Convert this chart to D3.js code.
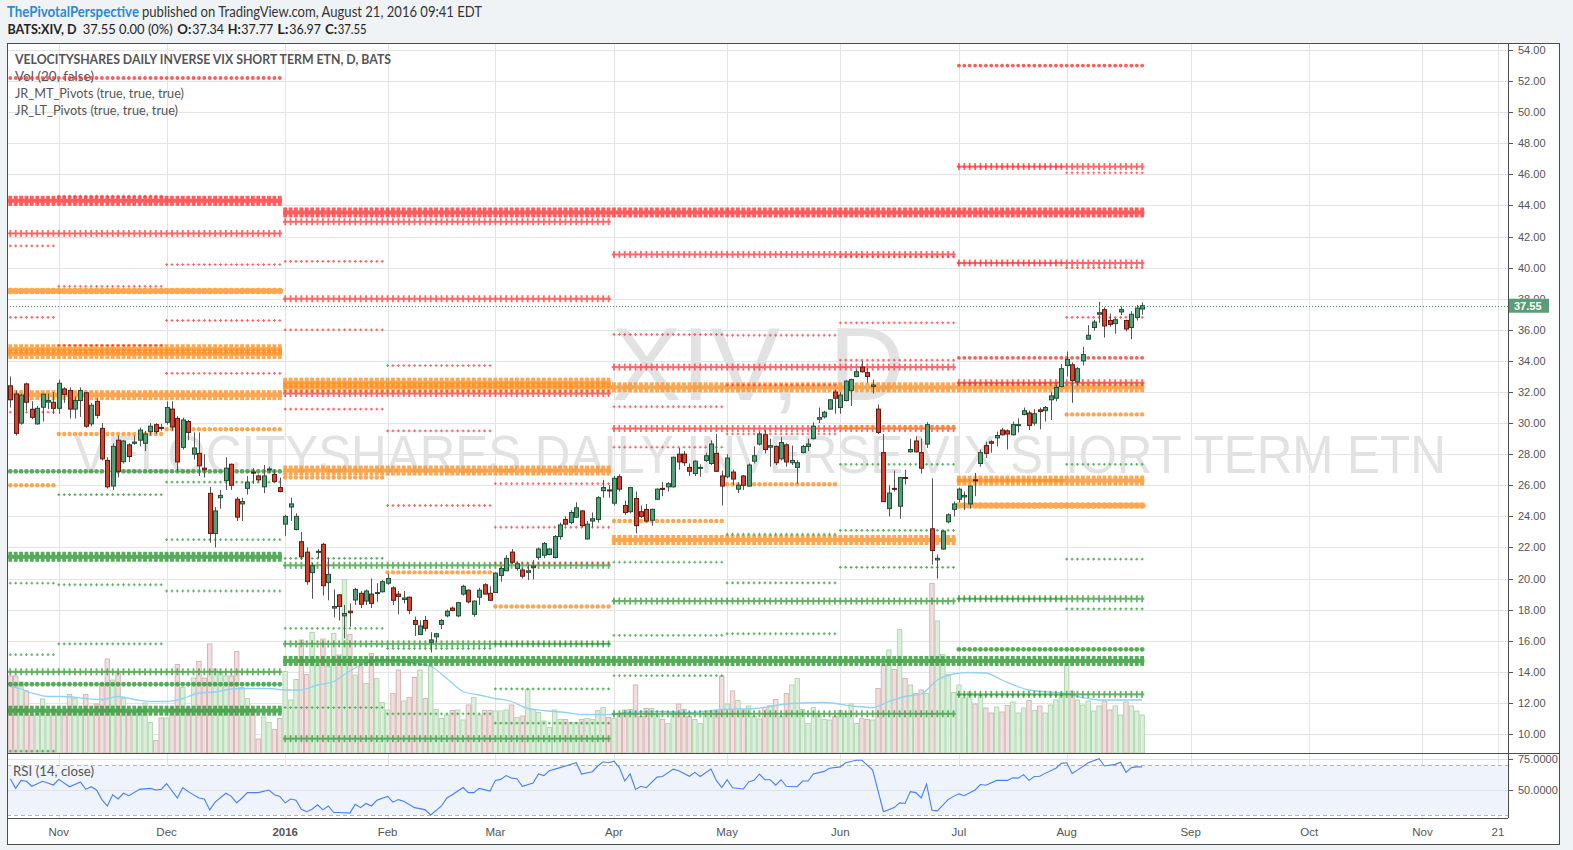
<!DOCTYPE html>
<html><head><meta charset="utf-8">
<script src="https://cdn.jsdelivr.net/npm/d3@7"></script>
<style>
body{margin:0;background:#f0f3f6;}
svg{display:block;}
</style></head><body><svg id="c" width="1573" height="850"></svg>
<script>
// ---------------- DATA ----------------
// bar index: 0 = 2 Nov 2015 (trading days), first bar = -9 (20 Oct 2015), last = 201 (19 Aug 2016)
const firstIdx = -9;
const opens = [32.4,31.87,30.0,32.52,30.89,29.95,31.02,31.35,31.34,30.95,
32.2,32.1,30.9,31.45,31.95,29.95,31.4,29.66,27.6,25.95,
28.9,27.52,28.6,28.7,28.9,28.7,29.45,29.9,29.72,30.05,
30.9,30.3,28.44,30.1,28.0,28.05,27.1,25.48,22.9,25.2,
26.3,27.35,25.1,24.8,25.8,26.85,26.6,25.9,27.0,26.7,
25.85,23.5,24.6,23.15,22.37,21.7,20.38,21.7,22.2,19.74,
18.1,18.95,17.6,17.9,18.62,19.05,18.55,19.0,19.05,19.15,
19.7,19.4,19.0,18.65,18.8,17.3,16.4,17.3,15.9,16.25,
17.05,17.6,18.1,17.6,19.0,19.25,17.7,18.8,19.6,19.05,
19.1,20.2,20.5,21.7,20.65,20.55,20.4,20.7,21.35,21.5,
21.55,21.35,22.7,23.8,23.6,23.95,24.35,22.55,23.7,23.8,
25.65,25.7,24.85,26.55,24.7,24.3,25.15,24.3,24.45,23.75,
25.1,25.8,25.9,25.9,28.0,28.0,27.15,26.75,27.1,27.6,
27.4,28.05,26.6,26.55,26.85,25.75,26.6,25.95,27.55,28.65,
29.25,28.45,28.5,27.7,28.6,27.45,27.15,28.1,28.5,29.0,
30.25,30.4,30.9,32.0,31.0,31.45,32.1,33.0,33.6,33.25,
32.35,30.9,28.1,24.5,25.8,24.65,26.5,28.15,28.85,28.1,
28.65,23.2,21.2,21.9,23.65,24.45,25.1,25.25,24.8,26.35,
27.4,28.55,28.8,29.05,29.55,29.5,29.25,29.85,30.55,30.65,
30.0,30.85,30.8,31.5,31.6,32.35,33.7,33.75,32.65,34.0,
35.4,36.15,37.0,37.3,36.6,36.4,37.15,36.6,36.15,36.8,37.34];
const highs = [33.0,32.1,31.9,32.6,31.4,31.1,31.9,31.9,32.0,32.8,
32.3,32.3,31.7,32.3,32.0,31.3,31.6,30.0,27.8,28.7,
29.2,28.9,28.7,29.2,29.7,29.5,30.0,30.0,29.95,31.4,
31.4,30.45,30.35,30.2,29.4,29.4,28.0,25.9,24.6,25.7,
27.8,27.4,25.25,25.2,26.6,27.1,26.7,27.3,27.2,27.0,
26.5,24.1,25.2,24.2,23.0,22.0,21.0,21.9,22.3,21.3,
19.3,19.0,18.3,18.4,19.4,19.2,19.3,20.0,19.7,19.9,
20.3,19.5,19.2,19.2,18.85,17.55,17.3,17.6,16.55,16.5,
17.4,18.0,18.2,18.5,19.6,19.3,18.6,19.4,19.7,19.5,
20.4,20.8,21.5,21.9,21.1,20.7,20.9,21.2,22.0,22.35,
21.95,22.8,23.6,24.0,24.4,24.9,24.4,23.7,24.25,25.3,
26.35,26.0,26.6,26.7,25.0,25.9,25.6,24.7,24.8,24.5,
25.8,26.2,26.2,27.85,28.4,28.2,27.4,27.6,27.35,28.1,
28.9,29.3,26.95,28.0,27.0,26.2,26.65,27.4,28.5,29.45,
29.55,29.0,28.55,29.1,28.7,28.55,27.6,28.6,29.0,30.05,
31.0,30.8,31.55,32.15,32.0,32.75,32.85,33.45,34.0,33.55,
32.8,31.2,29.3,26.0,26.95,26.55,27.0,29.0,29.15,29.0,
30.05,26.45,21.55,23.1,24.2,24.95,25.85,25.6,26.0,26.8,
28.3,28.8,28.9,29.45,29.7,29.6,30.1,30.3,31.0,30.8,
30.9,31.0,31.1,32.0,32.45,33.8,34.6,33.9,33.6,34.9,
36.3,36.65,37.8,37.45,37.05,36.75,37.5,36.65,37.2,37.6,37.77];
const lows = [31.0,29.2,29.9,30.8,30.25,29.9,30.1,30.9,30.6,30.6,
31.3,30.3,30.3,30.4,29.7,29.8,30.3,27.6,25.8,25.7,
26.5,27.4,27.5,28.6,28.5,28.2,29.2,29.3,29.5,29.9,
29.5,26.9,28.3,28.9,27.65,26.6,26.5,22.3,22.0,24.5,
25.7,25.7,23.7,23.7,25.4,26.1,26.2,25.5,26.8,26.2,
25.55,22.75,23.7,23.1,21.2,19.6,18.7,21.3,18.9,18.6,
17.5,17.3,16.15,16.9,18.3,18.1,18.3,18.1,18.5,19.1,
19.6,18.3,17.7,18.4,17.7,16.3,16.4,16.6,15.25,15.9,
16.75,17.5,17.9,17.5,18.9,18.4,17.55,18.3,19.0,18.55,
19.1,19.8,20.5,20.95,20.5,20.0,19.9,19.95,21.2,21.3,
21.5,21.3,22.5,23.4,23.5,23.9,23.3,22.5,23.3,23.6,
25.2,25.2,24.7,25.6,24.1,24.2,22.9,23.9,23.6,23.4,
25.05,25.3,25.6,25.85,27.0,27.25,26.6,26.6,26.55,27.5,
27.3,26.85,24.7,26.45,26.0,25.5,25.7,25.9,27.4,28.55,
28.05,27.2,27.3,27.6,27.2,27.3,26.1,28.05,28.2,28.95,
30.0,30.3,30.85,30.6,30.6,31.4,31.1,32.95,33.25,32.6,
31.9,29.3,24.95,24.0,25.6,23.85,26.05,28.1,28.1,26.75,
28.4,20.9,20.0,21.85,23.55,24.0,24.9,24.4,24.5,25.3,
27.2,27.75,28.1,28.5,29.2,28.3,29.2,29.4,30.5,29.55,
29.85,29.6,30.1,30.2,31.4,32.3,33.0,31.3,32.45,33.7,
35.4,35.95,36.45,35.5,36.2,35.75,36.95,35.9,35.4,36.6,36.97];
const closes = [31.5,29.34,31.8,31.34,30.37,30.95,31.86,31.45,30.95,32.56,
31.85,30.9,31.45,32.1,29.8,31.15,30.5,27.7,25.9,28.5,
26.9,28.85,27.85,28.78,29.55,29.3,29.8,29.45,29.68,31.0,
29.75,27.5,30.2,29.4,28.4,27.25,27.0,22.9,24.35,25.35,
27.1,26.0,23.95,24.95,26.2,26.8,26.35,26.6,27.05,26.25,
25.6,24.0,24.8,24.0,21.4,19.8,20.83,21.75,19.54,20.27,
18.2,18.2,17.75,17.8,19.3,18.35,19.2,18.4,19.1,19.8,
20.0,18.6,18.85,18.75,17.95,17.05,16.95,16.8,16.05,16.45,
17.3,17.9,17.95,18.45,19.5,18.5,18.55,19.25,19.0,18.6,
20.35,20.65,21.3,21.05,20.95,20.15,20.5,20.8,21.9,22.25,
21.9,22.7,23.45,23.5,24.25,24.55,23.4,23.5,23.85,25.2,
25.85,25.65,26.45,25.75,24.25,25.85,23.4,24.0,23.7,24.45,
25.75,25.75,26.1,27.8,27.5,27.45,26.9,27.55,27.15,27.9,
28.65,26.9,25.95,27.75,26.4,26.0,26.0,27.3,27.9,29.3,
28.3,28.55,27.45,28.75,27.5,27.6,27.45,28.5,28.65,29.8,
30.35,30.7,31.5,31.6,31.8,32.7,32.8,33.3,33.3,33.0,
32.45,29.4,24.95,25.5,25.75,26.5,26.45,28.3,28.15,27.1,
29.9,21.8,21.3,23.05,24.1,24.8,25.75,25.35,25.95,26.3,
28.1,28.05,28.7,29.2,29.25,29.3,29.9,29.9,30.8,29.85,
30.6,30.75,31.0,31.75,32.3,33.5,34.1,32.75,33.5,34.4,
35.65,36.5,37.1,36.25,36.35,36.65,37.3,36.05,37.0,37.4,37.55];
// volume, millions of shares
const volumes = [15.4,15.4,14.2,12.4,7.5,7.8,10.8,7.5,8.7,8.2,
8.2,11.7,10.9,8.2,11.7,8.2,9.8,13.9,18.8,14.6,
15.9,10.9,8.2,8.2,9.1,10.0,6.1,2.5,7.0,7.0,
9.0,17.7,13.1,9.0,15.0,18.3,15.0,21.8,16.8,16.1,
15.4,15.4,20.3,13.1,10.9,8.7,2.8,7.2,6.1,4.7,
6.9,16.3,10.6,14.7,22.6,15.7,24.1,17.5,22.8,17.3,
23.9,19.6,34.7,23.7,15.6,17.2,13.9,19.9,14.9,10.1,
8.6,11.9,16.6,10.4,11.1,15.1,16.6,10.9,17.3,8.7,
6.9,7.6,8.5,8.6,6.6,9.6,11.1,7.6,8.5,8.5,
8.4,8.4,8.6,9.6,7.1,7.4,12.7,8.7,8.1,6.4,
5.1,8.6,6.7,6.7,6.1,6.1,6.7,6.9,6.7,8.5,
9.1,7.1,6.9,7.6,8.6,8.7,13.6,7.3,8.9,8.9,
7.6,6.7,5.9,8.3,9.8,8.7,7.3,6.7,5.9,8.3,
8.3,8.3,15.4,9.8,12.4,10.5,8.6,9.4,7.3,6.8,
9.1,9.5,10.7,7.3,11.9,13.6,14.9,8.7,5.9,9.1,
7.6,6.7,6.6,7.3,8.5,7.9,9.8,5.9,6.9,6.7,
6.6,12.9,17.6,20.6,16.7,24.7,14.9,13.6,11.9,12.6,
11.9,33.9,26.4,19.7,15.7,12.1,13.6,11.0,12.2,9.8,
11.5,9.0,8.0,9.2,8.2,9.5,10.2,8.0,9.0,10.5,
8.5,9.4,8.0,9.6,10.6,11.6,17.6,12.4,10.6,9.6,
10.4,8.4,9.4,10.4,8.6,9.4,7.6,10.2,9.4,8.4,7.6];
// Vol (20) moving average, read at sampled bars
const volMaIdx = [-9,-7,-5,-2,1,5,8,11,14,17,20,23,26,29,32,35,39,42,45,48,51,53,56,60,63,66,69,72,75,78,81,84,87,90,94,97,100,103,105,111,117,123,129,136,142,148,151,154,157,160,163,166,169,172,175,180,186,193,201];
const volMaVal = [13.3,12.8,12.0,11.3,11.3,10.9,10.7,11.3,10.7,10.3,10.3,10.9,12.0,12.2,12.8,12.9,12.9,12.6,12.6,13.6,14.3,15.7,17.6,18.6,18.5,17.9,17.3,14.9,12.3,11.6,10.9,10.3,8.9,8.5,8.1,7.7,7.7,7.7,8.1,8.3,8.1,8.7,8.9,9.9,10.1,9.3,9.1,10.3,11.3,11.8,14.6,15.8,16.1,16.0,14.6,12.6,12.0,10.6,10.6];
// RSI (14, close), read at sampled bars
const rsiIdx = [-9,-8,-7,-6,-5,-3,-1,0,2,4,5,6,7,8,9,10,11,12,13,15,17,18,19,20,22,23,24,26,27,28,29,31,32,33,34,35,37,39,40,41,42,43,44,45,46,47,48,49,50,51,52,54,55,56,57,58,59,61,62,63,64,66,67,68,69,71,72,73,75,76,77,78,80,81,82,83,84,85,86,88,89,90,91,93,94,96,97,99,100,101,102,103,104,105,106,107,108,109,111,112,114,115,117,118,119,121,122,123,124,125,127,128,129,130,131,132,133,134,135,137,138,139,140,142,143,145,146,148,149,151,153,155,156,157,158,159,160,161,162,163,165,166,167,168,170,171,172,174,176,177,178,179,180,181,182,183,185,186,187,188,189,191,193,194,196,197,198,199,200,201];
const rsiVal = [59,51.3,57.7,57,53,57,54,58.5,52.6,56.4,50.5,52.6,50,42.3,37.2,46.2,42.8,47.4,45.4,50.5,51.3,50,50.5,55.1,43.6,52,48.7,43.6,42.8,34.1,40.3,47.4,44.9,39.7,43.6,47.9,47.9,50,46.2,44.9,39.7,42.8,41.8,34.6,32.6,34.6,38.2,34.1,37.2,32,32,31.5,38.5,35.9,39.2,37.2,41.8,44.9,40.3,42.3,41,35.9,35.1,34.1,30,37.2,43.6,46.2,52,47.9,47.9,51.3,49.2,57.7,58.5,61.5,59.5,59,53,55.6,62.8,61.5,65.4,67.9,69.2,71.8,62.8,64.6,69.2,72.6,71.8,73.1,67.9,57.2,62.8,50.5,53,51.8,60.3,60.8,66.7,65.4,61,64.1,60.8,66.7,57.7,52,58.2,51.8,50.8,56.4,57.7,62.8,58.2,58.2,53.8,58.2,53,52.6,57.2,57.2,62.8,64.9,67.4,68.5,71.8,73.8,73.8,65.9,32.6,35.9,39.7,39.2,48.7,47.9,43.6,54.6,33.8,33.3,42.3,44.9,46.9,45.4,50,54.4,53.8,57.7,57.7,59.7,59.5,62.3,57.7,60.8,61,63.3,67.4,71.3,71.8,63.3,65.9,71.8,75.1,69.2,70.5,72.3,64.1,67.9,68.5,68.5];
// time axis
const monthTickIdx = [0,20,42,61,81,103,124,145,167,187,210,232,253,267];
const monthTickLabels = ["Nov","Dec","2016","Feb","Mar","Apr","May","Jun","Jul","Aug","Sep","Oct","Nov","21"];
const priceTicks = d3.range(10, 55, 2);
const rsiTicks = [75, 50];
// JR_MT_Pivots: monthly floor pivots
const mtStart = [-10,0,20,42,61,81,103,124,145,167,187];
const mtEnd   = [-1,19,41,60,80,102,123,144,166,186,201];
const mtR3 = [41.4,44.6,40.2,40.4,33.7,26.1,35.7,35.65,40.7,46.5,46.1];
const mtR2 = [36.8,38.8,36.6,36.0,29.5,23.3,31.05,32.45,36.45,40.3,40.0];
const mtR1 = [30.7,35.0,33.2,30.9,24.7,21.0,28.45,29.3,34.05,32.55,36.8];
const mtP  = [26.0,29.3,29.6,26.5,20.4,18.2,23.7,26.07,29.75,26.3,30.56];
const mtS1 = [19.7,25.4,26.2,21.3,15.5,15.8,21.05,22.85,27.35,18.7,27.35];
const mtS2 = [15.1,19.6,22.5,16.8,11.3,12.9,16.35,19.72,23.1,12.5,21.25];
const mtS3 = [8.9,15.8,19.2,11.7,6.3,10.7,13.75,16.45,20.72,4.5,18.05];
// JR_LT_Pivots: quarterly (Q), yearly (Y) and range-dot (D) levels
const ltStart  = [-10,-10,-10,-10,-10,-10,-10,-10,-10,-10,-10,-10, 42,42,42, 42,42,42,42,42,42,42,42, 103,103,103,103,103,103, 167,167,167,167,167,167,167,167,167,167];
const ltEnd    = [41,41,41,41,41,41,41,41,41,41,41,41, 201,201,201, 102,102,102,102,102,102,102,102, 166,166,166,166,166,166, 201,201,201,201,201,201,201,201,201,201];
const ltPrice  = [52.2,44.3,42.2,38.5,34.75,34.45,31.8,26.9,21.4,14.0,13.2,11.5, 43.55,32.3,14.7, 42.95,38.0,31.9,32.6,26.95,20.85,15.8,9.7, 40.85,33.6,29.65,22.48,18.55,11.3, 46.5,40.3,32.6,26.3,18.7,12.55,53.0,34.2,24.7,15.45];
const ltLevel  = ["R","R","R","P","P","P","P","S","S","S","S","S", "R","P","S", "R","R","R","P","P","S","S","S", "R","R","R","P","S","S", "R","R","R","P","S","S","R","R","P","S"];
const ltSeries = ["D","Y","Q","D","Y","Y","Q","D","Y","Q","D","Y", "Y","Y","Y", "Q","Q","Q","Y","Q","Q","Q","Q", "Q","Q","Q","Q","Q","Q", "Q","Q","Q","Q","Q","Q","D","D","D","D"];
const lastClose = 37.55;

// ---------------- LAYOUT ----------------
const PL=7, PR=1508, PT=43, PB=753, RB=818, FB=845, FR=1560;
const x = d3.scaleLinear().domain([0,187]).range([58.8,1066.7]);
const bw = x(1)-x(0);
const y = d3.scaleLinear().domain([10,54]).range([734,50]);
const yv = d3.scaleLinear().domain([0,40]).range([PB,PB-200]);
const yr = d3.scaleLinear().domain([30,70]).range([815,765]);
const svg = d3.select('#c');
const F = '"Lato","Liberation Sans",sans-serif';
const FA = '"Liberation Sans",Arial,sans-serif';

svg.append('rect').attr('width',1573).attr('height',850).attr('fill','#f0f3f6');
svg.append('rect').attr('x',PL).attr('y',PT).attr('width',FR-PL).attr('height',FB-PT).attr('fill','#fff');
const defs = svg.append('defs');
defs.append('clipPath').attr('id','cm').append('rect').attr('x',PL).attr('y',PT).attr('width',PR-PL).attr('height',PB-PT);
defs.append('clipPath').attr('id','cr').append('rect').attr('x',PL).attr('y',PB).attr('width',PR-PL).attr('height',RB-PB);

// grid
const grid = svg.append('g');
grid.selectAll('.vg').data(monthTickIdx).join('line')
  .attr('x1',d=>Math.round(x(d))+0.5).attr('x2',d=>Math.round(x(d))+0.5).attr('y1',PT).attr('y2',RB)
  .attr('stroke','#e4e4e4');
grid.selectAll('.hg').data(priceTicks).join('line')
  .attr('x1',PL).attr('x2',PR).attr('y1',d=>Math.round(y(d))+0.5).attr('y2',d=>Math.round(y(d))+0.5)
  .attr('stroke','#e4e4e4');

// watermark (scaled to its measured width so its box is exact)
function fitText(g, cx, by, s, size, width){
  const t = g.append('text').attr('x',0).attr('y',0).attr('text-anchor','middle')
    .attr('font-family',FA).attr('font-size',size).attr('fill','#e2e2e2').text(s);
  const w = t.node().getComputedTextLength();
  t.attr('transform',`translate(${cx},${by}) scale(${width/w},1)`);
}
const wm = svg.append('g');
fitText(wm, 758, 400, 'XIV, D', 104, 293);
fitText(wm, 760, 473, 'VELOCITYSHARES DAILY INVERSE VIX SHORT TERM ETN', 53, 1372);

// legend texts
const leg = svg.append('g').attr('font-family',F).attr('fill','#555');
leg.append('text').attr('x',15).attr('y',64).attr('font-size',12.5).attr('font-weight','bold')
  .attr('textLength',376).attr('lengthAdjust','spacingAndGlyphs').text('VELOCITYSHARES DAILY INVERSE VIX SHORT TERM ETN, D, BATS');
[['Vol (20, false)',81,79],['JR_MT_Pivots (true, true, true)',98,169],['JR_LT_Pivots (true, true, true)',115,163]].forEach(t=>{
  leg.append('text').attr('x',15).attr('y',t[1]).attr('font-size',12.5)
   .attr('textLength',t[2]).attr('lengthAdjust','spacingAndGlyphs').text(t[0]);
});

const main = svg.append('g').attr('clip-path','url(#cm)');
const bars = d3.range(closes.length).map(k=>({i:firstIdx+k,o:opens[k],h:highs[k],l:lows[k],c:closes[k],v:volumes[k]}));

// volume
main.append('g').selectAll('rect').data(bars).join('rect')
  .attr('x',d=>x(d.i)-bw/2+0.5).attr('width',bw-1)
  .attr('y',d=>yv(d.v)).attr('height',d=>PB-yv(d.v))
  .attr('fill',d=>d.c>=d.o?'#dcefdc':'#f0dfdf')
  .attr('stroke',d=>d.c>=d.o?'#b2d8b2':'#d8b6b6').attr('stroke-width',1);
main.append('path').datum(volMaIdx.map((d,k)=>[d,volMaVal[k]]))
  .attr('d',d3.line().x(d=>x(d[0])).y(d=>yv(d[1])).curve(d3.curveMonotoneX))
  .attr('fill','none').attr('stroke','#93d0f4').attr('stroke-width',1.3);

// pivot levels
const col = {R:'#ff3030',P:'#ff8f1f',S:'#28962e'};
function level(s,e,p,lv,kind){
  const g = main.append('g').attr('fill',col[lv]).attr('stroke',col[lv]);
  const yy = y(p), xs = d3.range(s,e+1).map(d=>x(d));
  const x0 = x(s)-bw/2+0.5, x1 = x(e)+bw/2-0.5;
  if(kind==='thick'){
    g.attr('opacity',0.78).attr('stroke','none');
    g.append('rect').attr('x',x0).attr('y',yy-2).attr('width',x1-x0).attr('height',4);
    g.selectAll('.t').data(xs).join('rect').attr('x',d=>d-1.9).attr('y',yy-5).attr('width',3.8).attr('height',10);
  } else if(kind==='cross'){
    g.attr('opacity',0.72).attr('stroke','none');
    g.append('rect').attr('x',x0).attr('y',yy-1).attr('width',x1-x0).attr('height',2);
    g.selectAll('.t').data(xs).join('rect').attr('x',d=>d-0.9).attr('y',yy-3.5).attr('width',1.8).attr('height',7);
  } else if(kind.startsWith('dots')){
    const r = +kind.slice(4);
    g.attr('opacity',0.78).attr('stroke','none');
    g.selectAll('circle').data(xs).join('circle').attr('cx',d=>d).attr('cy',yy).attr('r',r);
  } else if(kind==='plus'){
    g.attr('opacity',0.75).attr('stroke-width',1.1);
    g.selectAll('path').data(xs).join('path').attr('d',d=>`M${d-1.4},${yy}H${d+1.4}M${d},${yy-1.4}V${yy+1.4}`);
  }
}
// long-term levels
ltPrice.forEach((p,k)=>{
  const s = ltSeries[k], lv = ltLevel[k];
  let kind;
  if(s==='Y') kind='thick';
  else if(s==='Q') kind = lv==='P' ? 'thick' : 'cross';
  else kind = lv==='P' ? 'dots3.3' : (lv==='S' ? 'dots2.4' : 'dots1.9');
  level(ltStart[k],ltEnd[k],p,lv,kind);
});
// monthly levels
mtStart.forEach((s,k)=>{
  const e = mtEnd[k];
  [mtR3,mtR2,mtR1].forEach(a=>level(s,e,a[k],'R','plus'));
  level(s,e,mtP[k],'P','dots2.2');
  [mtS1,mtS2,mtS3].forEach(a=>level(s,e,a[k],'S','plus'));
});

// candles
const cg = main.append('g');
cg.selectAll('line').data(bars).join('line')
  .attr('x1',d=>Math.round(x(d.i))+0.5).attr('x2',d=>Math.round(x(d.i))+0.5)
  .attr('y1',d=>y(d.h)).attr('y2',d=>y(d.l)).attr('stroke','#555').attr('stroke-width',1);
cg.selectAll('rect').data(bars).join('rect')
  .attr('x',d=>Math.round(x(d.i))-1.5).attr('width',4)
  .attr('y',d=>y(Math.max(d.o,d.c))).attr('height',d=>Math.max(1,Math.abs(y(d.o)-y(d.c))))
  .attr('fill',d=>d.c>=d.o?'#559f78':'#d3432e')
  .attr('stroke',d=>d.c>=d.o?'#1f4f33':'#5f1a12').attr('stroke-width',1);

// last price line
svg.append('line').attr('x1',PL).attr('x2',PR).attr('y1',Math.round(y(lastClose))+0.5).attr('y2',Math.round(y(lastClose))+0.5)
  .attr('stroke','#3f8f5f').attr('stroke-dasharray','1,2');

// RSI pane
const rg = svg.append('g').attr('clip-path','url(#cr)');
rg.append('rect').attr('x',PL).attr('y',yr(70)).attr('width',PR-PL).attr('height',yr(30)-yr(70)).attr('fill','#eef3fc');
rsiTicks.forEach(t=>rg.append('line').attr('x1',PL).attr('x2',PR).attr('y1',Math.round(yr(t))+0.5).attr('y2',Math.round(yr(t))+0.5).attr('stroke','#dde3ea'));
[70,30].forEach(t=>rg.append('line').attr('x1',PL).attr('x2',PR).attr('y1',Math.round(yr(t))+0.5).attr('y2',Math.round(yr(t))+0.5).attr('stroke','#b5b5b5').attr('stroke-dasharray','4,3'));
rg.append('path').datum(rsiIdx.map((d,k)=>[d,rsiVal[k]]))
  .attr('d',d3.line().x(d=>x(d[0])).y(d=>yr(d[1])))
  .attr('fill','none').attr('stroke','#4a7ff0').attr('stroke-width',1.1);
svg.append('text').attr('x',13).attr('y',776).attr('font-family',F).attr('font-size',12.5).attr('fill','#555')
  .attr('textLength',81).attr('lengthAdjust','spacingAndGlyphs').text('RSI (14, close)');

// frames
const fr = svg.append('g').attr('stroke','#4d4d4d').attr('fill','none');
fr.append('rect').attr('x',PL+0.5).attr('y',PT+0.5).attr('width',FR-PL-1).attr('height',FB-PT-1);
fr.append('line').attr('x1',PR+0.5).attr('x2',PR+0.5).attr('y1',PT).attr('y2',RB);
fr.append('line').attr('x1',PL).attr('x2',FR).attr('y1',PB+0.5).attr('y2',PB+0.5);
fr.append('line').attr('x1',PL).attr('x2',PR).attr('y1',RB+0.5).attr('y2',RB+0.5);

// price axis
const ax = svg.append('g').attr('font-family',FA).attr('font-size',11).attr('fill','#555');
priceTicks.forEach(t=>{
  ax.append('line').attr('x1',PR).attr('x2',PR+5).attr('y1',Math.round(y(t))+0.5).attr('y2',Math.round(y(t))+0.5).attr('stroke','#555');
  if(Math.abs(y(t)-y(lastClose))>9) ax.append('text').attr('x',PR+10).attr('y',y(t)+4).text(d3.format('.2f')(t));
});
rsiTicks.forEach(t=>{
  ax.append('line').attr('x1',PR).attr('x2',PR+5).attr('y1',Math.round(yr(t))+0.5).attr('y2',Math.round(yr(t))+0.5).attr('stroke','#555');
  ax.append('text').attr('x',PR+10).attr('y',yr(t)+4).text(d3.format('.4f')(t));
});
// the 38.00 label is mostly covered by the last-price tag in the reference: show only its top edge
const t38 = priceTicks.find(t=>Math.abs(y(t)-y(lastClose))<=9);
if(t38!==undefined){
  svg.append('defs').append('clipPath').attr('id','c38').append('rect').attr('x',PR+1).attr('y',y(t38)-6).attr('width',50).attr('height',y(lastClose)-7-(y(t38)-6));
  ax.append('text').attr('x',PR+10).attr('y',y(t38)+4).attr('clip-path','url(#c38)').text(d3.format('.2f')(t38));
}
// last price label
svg.append('rect').attr('x',PR+1).attr('y',y(lastClose)-7).attr('width',40).attr('height',14).attr('fill','#5a9e75');
svg.append('text').attr('x',PR+6).attr('y',y(lastClose)+4).attr('font-family',FA).attr('font-size',11).attr('font-weight','bold')
  .attr('fill','#fff').text(d3.format('.2f')(lastClose));

// time axis
svg.append('g').selectAll('text').data(monthTickIdx).join('text')
  .attr('x',d=>x(d)).attr('y',836).attr('text-anchor','middle')
  .attr('font-family',FA).attr('font-size',11.5).attr('fill','#555')
  .attr('font-weight',(d,k)=>monthTickLabels[k]==='2016'?'bold':'normal')
  .text((d,k)=>monthTickLabels[k]);

// header
const hd = svg.append('g').attr('font-family',F);
function ht(xp,yp,s,len,opt){
  const t = hd.append('text').attr('x',xp).attr('y',yp).attr('font-size',opt.size).attr('fill',opt.fill||'#333')
    .attr('textLength',len).attr('lengthAdjust','spacingAndGlyphs').text(s);
  if(opt.bold) t.attr('font-weight','bold');
}
ht(7,17,'ThePivotalPerspective',132,{size:14.5,fill:'#2b8ad4',bold:true});
ht(142,17,'published on TradingView.com, August 21, 2016 09:41 EDT',340,{size:14.5});
ht(7.5,34,'BATS:XIV, D',69,{size:13,bold:true,fill:'#222'});
ht(82.7,34,'37.55 0.00 (0%)',90,{size:13,fill:'#222'});
ht(177.3,34,'O:',14,{size:13,bold:true,fill:'#222'});
ht(192.3,34,'37.34',31.7,{size:13,fill:'#222'});
ht(227.7,34,'H:',13,{size:13,bold:true,fill:'#222'});
ht(241.3,34,'37.77',32,{size:13,fill:'#222'});
ht(277.3,34,'L:',11.3,{size:13,bold:true,fill:'#222'});
ht(289.3,34,'36.97',31.7,{size:13,fill:'#222'});
ht(325,34,'C:',12.3,{size:13,bold:true,fill:'#222'});
ht(337.7,34,'37.55',29,{size:13,fill:'#222'});
</script></body></html>
